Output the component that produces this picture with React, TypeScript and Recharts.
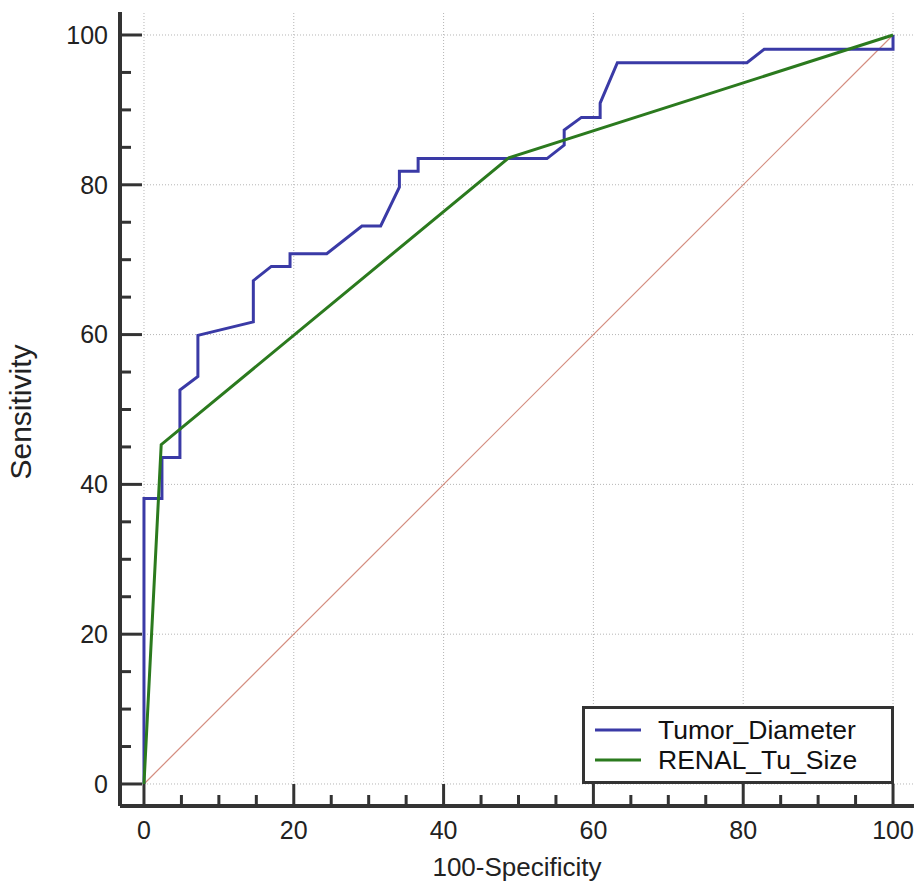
import { LineChart, Line, XAxis, YAxis, ReferenceLine, Label } from "recharts";

// ROC curve points (100-specificity, sensitivity)
const tumorFpr = [0, 0, 2.4, 2.4, 4.8, 4.8, 7.2, 7.2, 14.6, 14.6, 17.0, 19.5, 19.5, 24.4, 29.1, 31.6, 34.1, 34.1, 36.6, 36.6, 53.8, 56.1, 56.1, 58.4, 60.9, 60.9, 63.2, 80.5, 82.8, 100, 100];
const tumorTpr = [0, 38.1, 38.1, 43.6, 43.6, 52.6, 54.4, 59.9, 61.7, 67.2, 69.1, 69.1, 70.8, 70.8, 74.5, 74.5, 79.7, 81.8, 81.8, 83.5, 83.5, 85.3, 87.3, 89.0, 89.0, 90.9, 96.3, 96.3, 98.1, 98.1, 100];

const renalFpr = [0, 2.3, 48.7, 100];
const renalTpr = [0, 45.3, 83.6, 100];

const diagFpr = [0, 100];
const diagTpr = [0, 100];

const axisTicks = [0, 5, 10, 15, 20, 25, 30, 35, 40, 45, 50, 55, 60, 65, 70, 75, 80, 85, 90, 95, 100];
const gridValues = [0, 20, 40, 60, 80, 100];

const seriesNames = ["Tumor_Diameter", "RENAL_Tu_Size"];
const BLUE = "#3a3aa6";
const GREEN = "#2b7a1e";
const DIAG = "#c9705f";
const FONT = "'Liberation Sans', Arial, sans-serif";

const toPoints = (xs: number[], ys: number[]) => xs.map((x, i) => ({ x, y: ys[i] }));

const tumorData = toPoints(tumorFpr, tumorTpr);
const renalData = toPoints(renalFpr, renalTpr);
const diagData = toPoints(diagFpr, diagTpr);

const isMajor = (v: number) => v % 20 === 0;

function YTick(props: any) {
  const { x, y, payload } = props;
  const major = isMajor(payload.value);
  return (
    <g>
      <line x1={x} x2={x + (major ? 22 : 11)} y1={y} y2={y} stroke="#333" strokeWidth={3} />
      {major && (
        <text x={x - 12} y={y} dy="0.35em" textAnchor="end" fontSize={25} fill="#222" fontFamily={FONT}>
          {payload.value}
        </text>
      )}
    </g>
  );
}

function XTick(props: any) {
  const { x, y, payload } = props;
  const major = isMajor(payload.value);
  return (
    <g>
      <line x1={x} x2={x} y1={y} y2={y - (major ? 22 : 11)} stroke="#333" strokeWidth={3} />
      {major && (
        <text x={x} y={y + 24} dy="0.35em" textAnchor="middle" fontSize={25} fill="#222" fontFamily={FONT}>
          {payload.value}
        </text>
      )}
    </g>
  );
}

function LegendBox() {
  const colors = [BLUE, GREEN];
  return (
    <div style={{ position: "absolute", left: 582, top: 706, width: 312, height: 78 }}>
      <svg width={312} height={78}>
        <rect x={1.5} y={1.5} width={309} height={75} fill="#fff" stroke="#333" strokeWidth={3} />
        {seriesNames.map((name, i) => (
          <g key={name}>
            <line x1={13} x2={59} y1={24 + i * 30} y2={24 + i * 30} stroke={colors[i]} strokeWidth={3} />
            <text x={76} y={24 + i * 30} dy="0.35em" fontSize={26.5} fill="#111" fontFamily={FONT}>
              {name}
            </text>
          </g>
        ))}
      </svg>
    </div>
  );
}

export default function App() {
  return (
    <div style={{ position: "absolute", left: 0, top: 0, width: 916, height: 882, background: "#fff" }}>
      <LineChart width={916} height={882} margin={{ top: 12, right: 2, left: 60, bottom: 36 }}>
        <XAxis
          type="number"
          dataKey="x"
          domain={[-3.2, 102.8]}
          ticks={axisTicks}
          interval={0}
          allowDataOverflow
          height={40}
          tickSize={0}
          tickMargin={0}
          tickLine={false}
          tick={<XTick />}
          axisLine={{ stroke: "#333", strokeWidth: 4 }}
        >
          <Label
            content={({ viewBox }: any) => (
              <text
                x={viewBox.x + viewBox.width / 2}
                y={viewBox.y + 70}
                textAnchor="middle"
                fontSize={26}
                fill="#222"
                fontFamily={FONT}
              >
                100-Specificity
              </text>
            )}
          />
        </XAxis>
        <YAxis
          type="number"
          dataKey="y"
          domain={[-2.94, 103.07]}
          ticks={axisTicks}
          interval={0}
          allowDataOverflow
          width={60}
          tickSize={0}
          tickMargin={0}
          tickLine={false}
          tick={<YTick />}
          axisLine={{ stroke: "#333", strokeWidth: 4 }}
        >
          <Label
            content={({ viewBox }: any) => {
              const cx = viewBox.x - 29;
              const cy = viewBox.y + viewBox.height / 2 + 3;
              return (
                <text
                  x={cx}
                  y={cy}
                  textAnchor="middle"
                  fontSize={30}
                  fill="#222"
                  fontFamily={FONT}
                  transform={`rotate(-90, ${cx}, ${cy})`}
                >
                  Sensitivity
                </text>
              );
            }}
          />
        </YAxis>
        {gridValues.map((v) => (
          <ReferenceLine key={`gx${v}`} x={v} stroke="#b5b5b5" strokeDasharray="1 2" />
        ))}
        {gridValues.map((v) => (
          <ReferenceLine key={`gy${v}`} y={v} stroke="#b5b5b5" strokeDasharray="1 2" />
        ))}
        <Line
          data={diagData}
          dataKey="y"
          type="linear"
          stroke={DIAG}
          strokeOpacity={0.8}
          strokeWidth={1.2}
          dot={false}
          isAnimationActive={false}
        />
        <Line
          data={tumorData}
          dataKey="y"
          name={seriesNames[0]}
          type="linear"
          stroke={BLUE}
          strokeWidth={3}
          dot={false}
          isAnimationActive={false}
        />
        <Line
          data={renalData}
          dataKey="y"
          name={seriesNames[1]}
          type="linear"
          stroke={GREEN}
          strokeWidth={3}
          dot={false}
          isAnimationActive={false}
        />
      </LineChart>
      <LegendBox />
    </div>
  );
}
